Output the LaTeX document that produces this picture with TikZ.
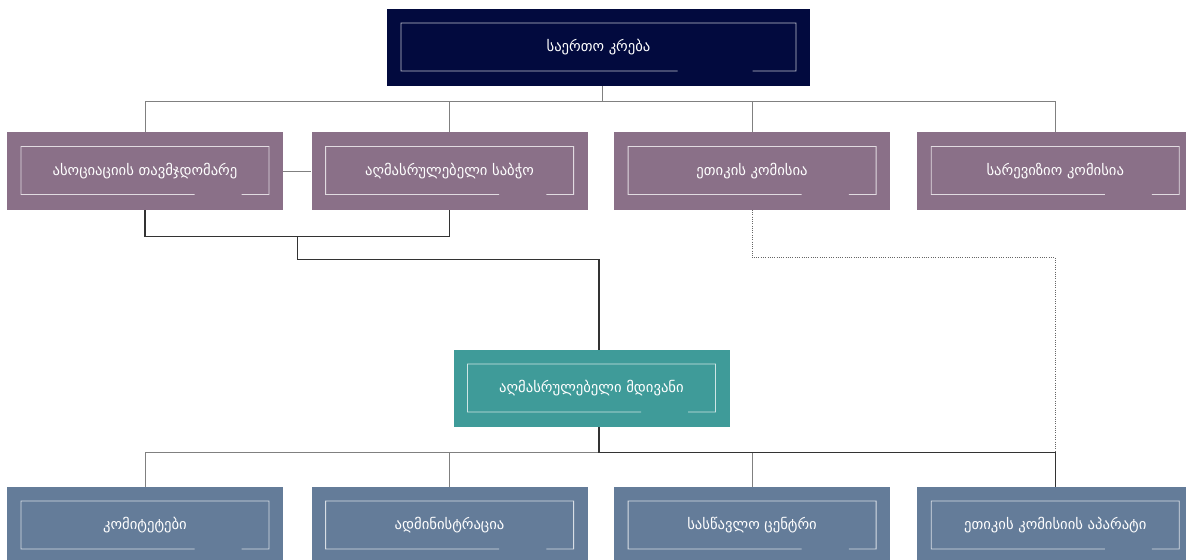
\documentclass[tikz,border=0pt]{standalone}
\usepackage{fontspec}
\newfontfamily\geofont{DejaVu Sans}
\usetikzlibrary{calc,positioning}

\definecolor{navyblue}{HTML}{020A3E}
\definecolor{mauve}{HTML}{8A7088}
\definecolor{seagreen}{HTML}{3F9B99}
\definecolor{slateblue}{HTML}{647C99}

\tikzset{
  card/.style={minimum width=207pt, minimum height=57.75pt, inner sep=0pt,
    text=white,
    path picture={
      \coordinate (in sw) at ($(path picture bounding box.south west)+(10.5pt,11.25pt)$);
      \coordinate (in ne) at ($(path picture bounding box.north east)+(-10.5pt,-10.5pt)$);
      \draw[draw=white, draw opacity=0.75, line width=0.7pt]
        ($(in sw)!0.70!(in sw -| in ne)$) -- (in sw) |- (in ne)
        |- ($(in sw)!0.89!(in sw -| in ne)$);
    }},
  link/.style={draw=black!50, line width=0.7pt},
  mainlink/.style={draw=black!80, line width=0.8pt},
  dotlink/.style={draw=black!60, line width=0.7pt, densely dotted},
}

\begin{document}
\begin{tikzpicture}[x=0.75pt, y=-0.75pt, font=\geofont\fontsize{11}{13}\selectfont]
  \useasboundingbox (0,0) rectangle (1186,560);

  \node[card, fill=navyblue, minimum width=317.25pt] (assembly) at (598.5,47.5) {საერთო კრება};

  \node[card, fill=mauve] (chair) at (145,171) {ასოციაციის თავმჯდომარე};
  \node[card, fill=mauve, right=21pt of chair] (board) {აღმასრულებელი საბჭო};
  \node[card, fill=mauve, right=19.5pt of board] (ethics) {ეთიკის კომისია};
  \node[card, fill=mauve, right=20pt of ethics] (audit) {სარევიზიო კომისია};

  \node[card, fill=seagreen] (secretary) at (591.5,388.5) {აღმასრულებელი მდივანი};

  \node[card, fill=slateblue] (committees) at (145,525.5) {კომიტეტები};
  \node[card, fill=slateblue, right=21pt of committees] (admin) {ადმინისტრაცია};
  \node[card, fill=slateblue, right=19.5pt of admin] (training) {სასწავლო ცენტრი};
  \node[card, fill=slateblue, right=20pt of training] (apparatus) {ეთიკის კომისიის აპარატი};

  % assembly to the second row
  \foreach \n in {chair,board,ethics,audit}
    \draw[link] ([xshift=2.6pt]assembly.south) -- ++(0,15) -| (\n.north);
  \draw[link] (chair.east) -- (board.west);

  % chair and board down to the secretary
  \draw[mainlink] (chair.south) -- ++(0,27) -| (board.south);
  \coordinate (pair) at ($(chair.south)!0.5!(board.south)+(0,27)$);
  \draw[mainlink] (pair) -- ++(0,23) -| ([xshift=5.6pt]secretary.north);

  % ethics to its apparatus
  \draw[dotlink] (ethics.south) -- ++(0,48) -| (apparatus.north);

  % secretary to the third row
  \foreach \n in {committees,admin,training,apparatus}
    \draw[link] ([xshift=5.6pt]secretary.south) -- ++(0,25) -| (\n.north);
  \draw[mainlink] ([xshift=5.6pt]secretary.south) -- ++(0,25) -| (apparatus.north);
\end{tikzpicture}
\end{document}
